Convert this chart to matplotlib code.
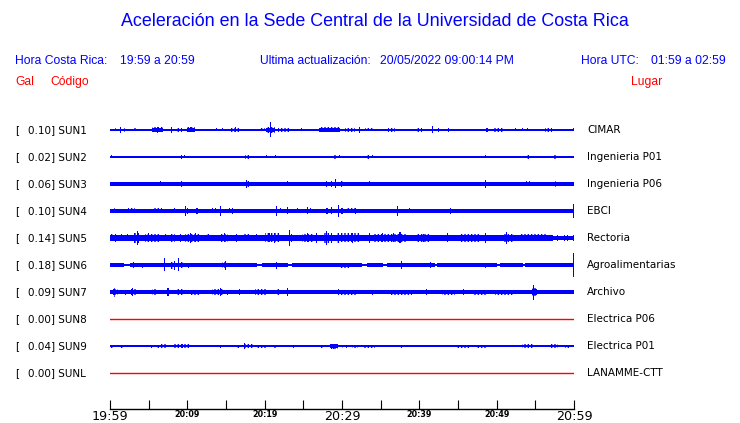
import matplotlib
matplotlib.use("Agg")
import matplotlib.pyplot as plt
from matplotlib.transforms import blended_transform_factory

plt.rcParams['hatch.linewidth'] = 1.0

# estaciones
codes = ['SUN1', 'SUN2', 'SUN3', 'SUN4', 'SUN5', 'SUN6', 'SUN7', 'SUN8', 'SUN9', 'SUNL']
peak_gal = [0.10, 0.02, 0.06, 0.10, 0.14, 0.18, 0.09, 0.00, 0.04, 0.00]
places = ['CIMAR', 'Ingenieria P01', 'Ingenieria P06', 'EBCI', 'Rectoria',
          'Agroalimentarias', 'Archivo', 'Electrica P06', 'Electrica P01', 'LANAMME-CTT']
time_labels = ['19:59', '', '20:09', '', '20:19', '', '20:29', '', '20:39', '', '20:49', '', '20:59']
big_labels = ['19:59', '20:29', '20:59']

# trazas: (minuto inicio, minuto fin, amplitud)
# inicio == fin: pico aislado; inicio < fin: tramo con muchos picos
sun1_base = [(0, 60, 0.6)]
sun1 = [(0.6, 0.9, 1.5), (1.38, 1.38, 3), (1.8, 2.0, 2), (3.0, 3.4, 1.5), (4.6, 4.6, 1), (5.4, 6.9, 2.5),
        (6.2, 6.2, 3), (7.9, 7.9, 3), (8.5, 9.3, 2), (10.0, 11.0, 2.5), (10.4, 10.4, 2.5), (11.4, 11.4, 1),
        (13.8, 13.8, 1.5), (14.6, 14.6, 1.5), (15.6, 16.8, 2), (16.2, 16.2, 2.5), (18.4, 18.4, 1),
        (19.4, 20.0, 1.5), (20.2, 21.3, 3), (20.7, 20.7, 7.5), (21.7, 23.3, 2), (24.8, 24.8, 1.5),
        (27.0, 29.7, 2.5), (28.2, 28.2, 2.5), (30.4, 31.7, 2), (32.3, 32.3, 3), (33.0, 34.0, 1.5),
        (36.0, 36.9, 2), (38.5, 38.5, 1), (39.7, 40.3, 2), (41.7, 41.7, 3.5), (42.5, 42.5, 2),
        (43.8, 43.8, 2), (45.5, 45.5, 1), (46.4, 46.4, 1), (48.75, 48.75, 2), (49.5, 51.0, 2),
        (52.4, 52.4, 1.5), (53.4, 53.4, 1.5), (54.05, 54.05, 1.5), (55.2, 55.2, 1), (56.2, 57.2, 2),
        (58.2, 58.2, 1), (59.9, 59.9, 1.5)]

sun2_base = [(0, 60, 0.6)]
sun2 = [(0.13, 0.13, 1.5), (6.72, 6.72, 1), (7.1, 7.1, 1), (8.66, 8.66, 1), (8.9, 9.3, 2), (9.57, 9.57, 1.5),
        (17.1, 17.1, 1), (17.5, 18.0, 2), (20.2, 20.2, 1.5), (21.4, 21.4, 1.5), (25.7, 25.7, 1),
        (28.8, 29.4, 2), (29.7, 29.7, 1.5), (31.4, 31.4, 1), (31.9, 31.9, 1), (33.2, 33.6, 2),
        (33.9, 33.9, 1.5), (43.2, 43.2, 1), (48.6, 48.6, 1.5), (53.8, 54.3, 2), (57.15, 57.15, 1),
        (57.4, 57.8, 2)]

sun3_base = [(0, 60, 1.7)]
sun3 = [(6.47, 6.47, 2.5), (9.1, 9.3, 3), (17.6, 18.0, 3), (17.6, 17.6, 3.7), (22.9, 22.9, 2.5),
        (26.0, 26.0, 2), (28.0, 28.0, 3), (28.7, 28.7, 3), (29.1, 29.1, 4.5), (29.9, 29.9, 3),
        (30.0, 30.2, 2.5), (31.4, 31.4, 2), (33.5, 33.5, 2.5), (40.1, 40.1, 2), (41.6, 41.6, 2),
        (48.5, 48.5, 4), (53.9, 53.9, 2.5), (54.2, 54.2, 2.5), (57.5, 57.8, 3)]

sun4_base = [(0, 60, 1.7)]
sun4 = [(0.4, 0.65, 2.5), (1.8, 1.8, 2), (2.3, 3.2, 2.5), (4.0, 4.0, 2), (5.56, 6.7, 2.5), (8.28, 8.28, 2.5),
        (8.66, 8.66, 2), (9.7, 9.7, 5), (9.96, 9.96, 3), (10.7, 10.7, 2), (11.25, 11.25, 3),
        (13.2, 13.2, 2.5), (13.7, 13.7, 2.5), (14.3, 14.3, 5), (15.0, 15.0, 2), (15.4, 15.4, 2.5),
        (15.9, 15.9, 3), (21.5, 21.5, 5), (22.0, 22.0, 2.5), (23.0, 23.0, 3.5), (24.2, 24.2, 2.5),
        (25.5, 25.5, 3.5), (25.9, 25.9, 2.5), (26.5, 26.5, 2), (28.06, 28.06, 3), (28.6, 28.6, 3.5),
        (29.6, 29.6, 6), (30.0, 30.0, 3), (30.4, 30.4, 2), (30.6, 31.9, 2.5), (31.7, 31.7, 3),
        (35.9, 35.9, 2), (37.2, 37.2, 5), (38.7, 38.7, 2.5), (38.9, 38.9, 2), (42.7, 42.7, 2),
        (44.0, 44.0, 3), (44.6, 46.5, 2), (48.5, 48.5, 2), (51.6, 51.6, 2), (59.1, 59.1, 2),
        (59.9, 59.9, 7)]

sun5_base = [(0, 57.3, 3), (57.3, 60, 2)]
sun5 = [(0, 0.4, 3.5), (0.7, 0.7, 4), (1.55, 1.55, 3.5), (2.2, 2.2, 3.5), (2.97, 3.75, 5), (3.62, 3.62, 6.7),
        (3.2, 3.2, 5), (4.5, 6.4, 3.8), (5.0, 5.0, 4.5), (7.24, 7.24, 3.5), (7.9, 8.4, 3.8), (9.18, 9.18, 4),
        (9.7, 11.6, 4), (10.4, 10.4, 5), (11.0, 11.0, 4.5), (12.4, 12.9, 3.5), (14.35, 15.25, 4),
        (14.8, 14.8, 4.5), (16.4, 16.4, 4), (17.2, 18.1, 3.5), (19.0, 19.0, 3.5), (20.0, 22.0, 4.5),
        (20.6, 20.6, 4.5), (21.3, 21.3, 5), (23.2, 23.2, 8), (23.5, 23.5, 4), (24.8, 26.25, 4),
        (25.6, 25.6, 4.5), (26.7, 26.7, 5), (27.5, 28.7, 5), (28.0, 28.0, 7), (29.35, 29.7, 5),
        (29.7, 32.3, 4.5), (30.9, 30.9, 4.5), (31.4, 31.4, 5), (33.6, 33.6, 5), (34.0, 38.4, 4),
        (35.2, 35.2, 4.5), (36.6, 36.6, 4.5), (37.5, 37.5, 5.5), (39.7, 41.4, 3.8), (40.5, 40.5, 4),
        (43.6, 43.6, 4.5), (45.3, 47.8, 3.8), (46.4, 46.4, 4), (48.6, 48.6, 5), (50.8, 52.1, 4),
        (51.3, 51.3, 6), (53.0, 56.5, 3.5), (57.15, 57.15, 3), (57.9, 57.9, 3), (58.8, 58.8, 3),
        (59.2, 59.2, 3), (59.9, 59.9, 3)]

sun6_base = [(0, 1.8, 1.7), (1.8, 2.6, 0.6), (2.6, 19.0, 1.7), (19.0, 19.7, 0.6), (19.7, 23.0, 1.7),
             (23.0, 23.5, 0.6), (23.5, 32.6, 1.7), (32.6, 33.2, 0.6), (33.2, 35.3, 1.7), (35.3, 35.8, 0.6),
             (35.8, 42.0, 1.7), (42.0, 42.3, 0.6), (42.3, 50.0, 1.7), (50.0, 50.4, 0.6), (50.4, 53.4, 1.7),
             (53.4, 53.7, 0.6), (53.7, 60, 1.7)]
sun6 = [(3.0, 3.0, 3), (4.14, 4.14, 2.5), (5.04, 5.04, 2), (7.11, 7.11, 6.5), (7.9, 8.4, 3.5),
        (8.28, 8.28, 4.5), (8.83, 8.83, 6.5), (9.05, 9.44, 3), (10.2, 10.2, 2.5), (12.3, 12.3, 2),
        (13.3, 13.3, 2), (14.5, 15.1, 3), (14.9, 14.9, 4.5), (17.1, 17.1, 2), (18.5, 18.5, 2),
        (21.55, 21.55, 3.5), (27.0, 27.0, 2), (27.8, 27.8, 2), (29.7, 31.0, 2.5), (37.7, 37.7, 4),
        (39.2, 39.2, 2), (41.5, 41.5, 3), (43.7, 43.7, 2), (46.2, 46.2, 2), (48.6, 48.6, 2.5),
        (52.1, 52.1, 2), (56.0, 56.0, 2), (57.5, 57.5, 2), (59.9, 59.9, 12)]

sun7_base = [(0, 60, 1.7)]
sun7 = [(0.4, 0.65, 4.5), (0.65, 1.0, 3), (1.94, 1.94, 2.5), (2.72, 3.49, 3), (2.97, 2.97, 4),
        (4.27, 4.27, 2), (5.43, 5.95, 3), (6.34, 6.34, 2), (7.5, 7.5, 4), (8.66, 9.44, 3),
        (10.3, 11.6, 2.5), (13.2, 14.6, 3), (14.3, 14.3, 4), (15.25, 15.25, 2.5), (15.9, 15.9, 2),
        (16.7, 16.7, 3), (18.75, 20.3, 3), (21.6, 22.0, 3), (22.9, 22.9, 4), (23.7, 24.6, 2.3),
        (26.0, 26.0, 2), (29.5, 29.5, 3), (29.7, 31.9, 2.5), (34.0, 34.0, 2.5), (36.2, 39.05, 2.5),
        (40.9, 40.9, 3), (42.9, 44.6, 2.5), (45.65, 45.65, 3), (46.9, 48.75, 2.5), (49.8, 52.1, 2.5),
        (54.6, 55.2, 4), (54.8, 54.8, 7.5), (56.0, 56.0, 2), (56.5, 56.5, 2), (57.15, 57.15, 2),
        (57.8, 57.8, 2), (58.2, 58.2, 2), (58.5, 58.5, 2), (59.9, 59.9, 2)]

sun9_base = [(0, 60, 0.8)]
sun9 = [(0, 0.39, 1.5), (0.9, 0.9, 1), (1.3, 1.7, 1.5), (2.72, 2.85, 1), (5.43, 5.43, 1.5), (6.08, 6.34, 1.5),
        (6.6, 7.37, 2), (8.15, 10.4, 2), (9.4, 9.4, 2), (12.4, 12.4, 1), (13.0, 13.0, 1),
        (14.35, 14.35, 1.5), (16.4, 16.8, 1.5), (17.2, 18.5, 2), (17.45, 17.45, 2.7), (19.0, 20.3, 1.5),
        (21.1, 21.6, 1.5), (23.7, 23.7, 1.5), (25.4, 25.4, 1), (26.0, 26.0, 1), (27.3, 27.5, 1.5),
        (28.4, 29.5, 2.5), (28.9, 28.9, 2.5), (30.0, 30.1, 1.5), (30.6, 30.6, 1.5), (31.3, 32.1, 1.5),
        (32.7, 34.3, 1.5), (35.6, 35.6, 1), (37.4, 37.8, 1.5), (38.7, 38.7, 1), (40.6, 40.6, 1),
        (41.9, 41.9, 1), (42.7, 42.7, 1), (44.9, 46.55, 1.5), (47.45, 48.75, 1.5), (49.3, 49.3, 1),
        (50.2, 50.2, 1), (51.0, 51.0, 1), (53.3, 54.7, 2), (56.9, 57.9, 2), (58.8, 59.5, 1.5)]

bases = [sun1_base, sun2_base, sun3_base, sun4_base, sun5_base, sun6_base, sun7_base, None, sun9_base, None]
events = [sun1, sun2, sun3, sun4, sun5, sun6, sun7, None, sun9, None]

W, H = 740, 423
scale = 1 / 27  # amplitud (px) -> separacion entre trazas
minw = 0.13     # ancho minimo de un pico, en minutos
blue = '#0000ff'

fig = plt.figure(figsize=(W / 100, H / 100), dpi=100)
ax = fig.add_axes([110 / W, (H - 409) / H, 464 / W, (409 - 115) / H])
ax.set_xlim(0, 60)
ax.set_ylim(-(409 - 130) / 27, (130 - 115) / 27)

for i in range(len(codes)):
    y = -i
    if events[i] is None:
        ax.axhline(y, color='#ff0000', lw=1)
        continue
    # banda de fondo
    b0 = [s[0] for s in bases[i]]
    bw = [s[1] - s[0] for s in bases[i]]
    ax.bar(b0, [2 * s[2] * scale for s in bases[i]], bw,
           bottom=[y - s[2] * scale for s in bases[i]], align='edge', color=blue, linewidth=0)
    # tramos con muchos picos
    bursts = [e for e in events[i] if e[1] > e[0]]
    if bursts:
        ax.bar([e[0] for e in bursts], [2 * e[2] * scale for e in bursts], [e[1] - e[0] for e in bursts],
               bottom=[y - e[2] * scale for e in bursts], align='edge', facecolor='none',
               edgecolor=blue, linewidth=0, hatch='|||||')
        ax.bar([e[0] for e in bursts], [1.3 * e[2] * scale for e in bursts], [e[1] - e[0] for e in bursts],
               bottom=[y - 0.65 * e[2] * scale for e in bursts], align='edge', color=blue, linewidth=0)
    # picos aislados
    spikes = [e for e in events[i] if e[1] == e[0]]
    ax.bar([e[0] - minw / 2 for e in spikes], [2 * e[2] * scale for e in spikes], minw,
           bottom=[y - e[2] * scale for e in spikes], align='edge', color=blue, linewidth=0)

for s in ['top', 'left', 'right']:
    ax.spines[s].set_visible(False)
ax.spines['bottom'].set_linewidth(1)
ax.set_yticks([])
ax.set_xticks(range(0, 61, 5))
ax.set_xticklabels(time_labels)
ax.tick_params(axis='x', direction='in', length=6.5, width=0.8, pad=0.5)
for lab in ax.get_xticklabels():
    if lab.get_text() in big_labels:
        lab.set_fontsize(9.2)
    else:
        lab.set_fontsize(5.8)
        lab.set_fontweight('bold')

# rotulos de cada traza
tr = blended_transform_factory(fig.transFigure, ax.transData)
for i in range(len(codes)):
    ax.text(15 / W, -i, '[', transform=tr, fontsize=7.5, va='center', ha='left')
    ax.text(28 / W, -i, '%.2f] %s' % (peak_gal[i], codes[i]), transform=tr, fontsize=7.5, va='center', ha='left')
    ax.text(587 / W, -i, places[i], transform=tr, fontsize=7.5, va='center', ha='left')

hf = 'Liberation Sans'
fig.text(375 / W, 1 - 22 / H, 'Aceleración en la Sede Central de la Universidad de Costa Rica',
         ha='center', va='center', color=blue, fontsize=12.9, family=hf)
y2 = 1 - 61 / H
fig.text(15 / W, y2, 'Hora Costa Rica:', color=blue, fontsize=8.7, family=hf, va='center')
fig.text(120 / W, y2, '19:59 a 20:59', color=blue, fontsize=8.7, family=hf, va='center')
fig.text(260 / W, y2, 'Ultima actualización:', color=blue, fontsize=8.7, family=hf, va='center')
fig.text(380 / W, y2, '20/05/2022 09:00:14 PM', color=blue, fontsize=8.7, family=hf, va='center')
fig.text(581 / W, y2, 'Hora UTC:', color=blue, fontsize=8.7, family=hf, va='center')
fig.text(651 / W, y2, '01:59 a 02:59', color=blue, fontsize=8.7, family=hf, va='center')
y3 = 1 - 82 / H
fig.text(15 / W, y3, 'Gal', color='#ff0000', fontsize=8.7, family=hf, va='center')
fig.text(50 / W, y3, 'Código', color='#ff0000', fontsize=8.7, family=hf, va='center')
fig.text(631 / W, y3, 'Lugar', color='#ff0000', fontsize=8.7, family=hf, va='center')

plt.savefig('out.png', dpi=100)
